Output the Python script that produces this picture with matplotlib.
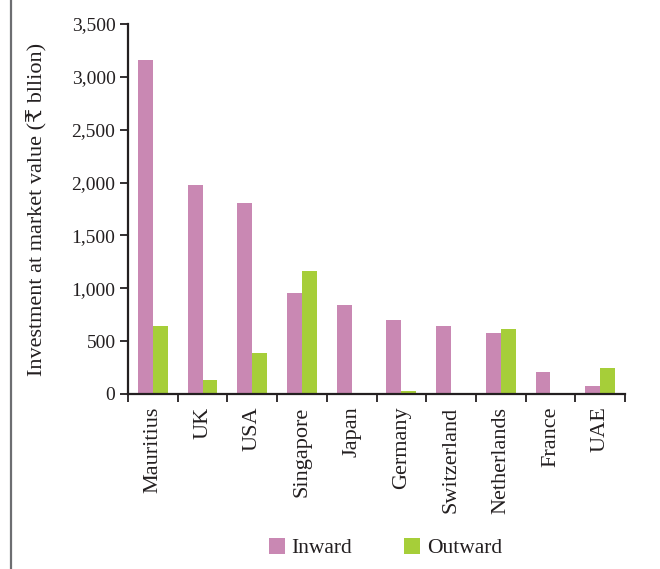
import matplotlib
matplotlib.use("Agg")
import matplotlib.pyplot as plt
from matplotlib.lines import Line2D
from matplotlib.ticker import FuncFormatter, MultipleLocator
import numpy as np

# donnees
countries = ["Mauritius", "UK", "USA", "Singapore", "Japan", "Germany",
             "Switzerland", "Netherlands", "France", "UAE"]
inward = [3160, 1975, 1805, 952, 842, 700, 643, 577, 205, 76]
outward = [640, 132, 385, 1167, 0, 25, 0, 612, 5, 243]

pink = "#c988b3"
green = "#a6ce39"
ink = "#231f20"

plt.rcParams["font.family"] = ["Liberation Serif", "DejaVu Serif", "DejaVu Sans"]

fig = plt.figure(figsize=(6.6, 5.69), dpi=100)
ax = fig.add_axes([128 / 660, 1 - 394 / 569, (625 - 128) / 660, (394 - 24) / 569])

x = np.arange(len(countries))
w = 0.30
ax.bar(x - w / 2, inward, w, color=pink, label="Inward")
ax.bar(x + w / 2, outward, w, color=green, label="Outward")

ax.set_xlim(-0.5, len(countries) - 0.5)
ax.set_ylim(0, 3500)
ax.yaxis.set_major_locator(MultipleLocator(500))
ax.yaxis.set_major_formatter(FuncFormatter(lambda v, p: f"{int(v):,}"))

ax.set_xticks(x)
ax.set_xticklabels(countries, rotation=90, fontsize=16, color=ink)
ax.set_xticks(np.arange(-0.5, len(countries)), minor=True)
ax.tick_params(axis="x", which="major", length=0, pad=9)
ax.tick_params(axis="x", which="minor", length=6, width=1.3, color=ink, direction="out")
ax.tick_params(axis="y", length=6, width=1.3, color=ink, labelsize=14,
               labelcolor=ink, pad=3)

for s in ["top", "right"]:
    ax.spines[s].set_visible(False)
for s in ["left", "bottom"]:
    ax.spines[s].set_color(ink)
    ax.spines[s].set_linewidth(1.6)

ax.set_ylabel("Investment at market value (₹ bllion)", fontsize=16, color=ink)
ax.yaxis.set_label_coords(-0.163, 0.5)

fig.legend(loc="center", bbox_to_anchor=(0.584, 0.037), ncol=2, frameon=False,
           fontsize=15.5, handlelength=0.75, handleheight=0.75, handletextpad=0.3,
           columnspacing=2.4, labelcolor=ink)

# trait gris a gauche
fig.add_artist(Line2D([11 / 660, 11 / 660], [0, 1], color="#6d6e71", linewidth=1.6))

fig.savefig("out.png", dpi=100)
plt.close("all")
